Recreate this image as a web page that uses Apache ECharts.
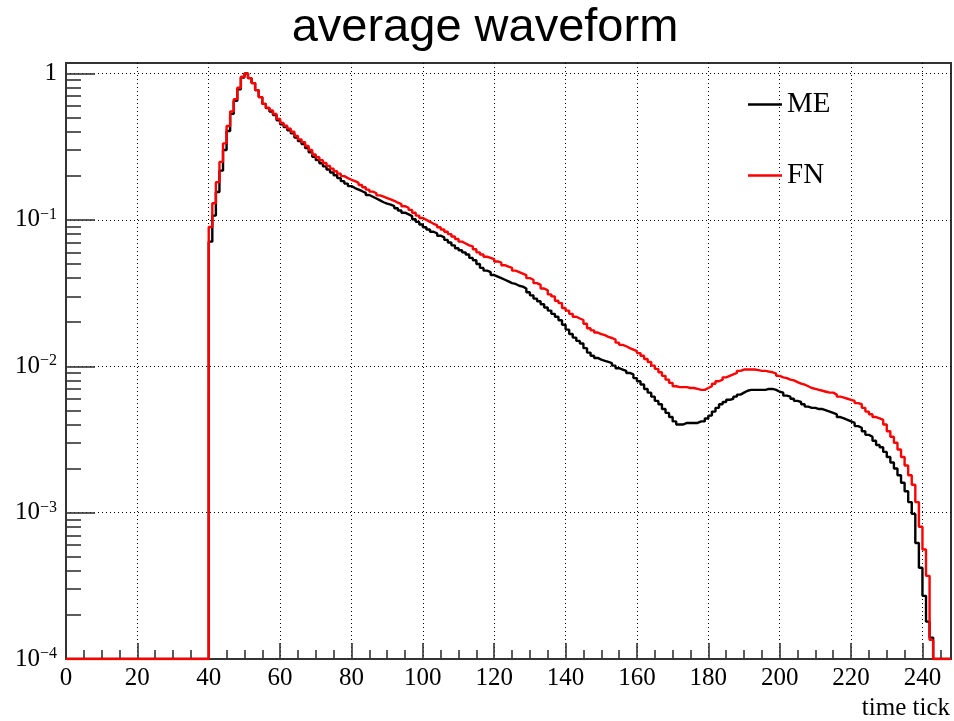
<!DOCTYPE html>
<html>
<head>
<meta charset="utf-8">
<title>average waveform</title>
<script src="https://cdn.jsdelivr.net/npm/echarts@6/dist/echarts.min.js"></script>
<style>
  html, body { margin: 0; padding: 0; background: #fff; }
  #chart { width: 954px; height: 721px; }
</style>
</head>
<body>
<div id="chart"></div>
<script>
// histogram: one bin per time tick, bins before firstBin and after the lists are empty
const firstBin = 40
const lastEdge = 248

// ME (black), bins 40 .. 242
const meValues = [
  0.071, 0.107, 0.155, 0.217, 0.30, 0.405, 0.53, 0.65, 0.78, 0.94,            // 40
  1.0, 0.93, 0.86, 0.77, 0.69, 0.62, 0.58, 0.55, 0.52, 0.48,                  // 50
  0.45, 0.43, 0.41, 0.39, 0.365, 0.345, 0.33, 0.31, 0.29, 0.27,               // 60
  0.256, 0.244, 0.232, 0.221, 0.211, 0.202, 0.193, 0.184, 0.177, 0.170,       // 70
  0.165, 0.161, 0.157, 0.153, 0.148, 0.144, 0.140, 0.136, 0.132, 0.129,       // 80
  0.127, 0.124, 0.120, 0.116, 0.112, 0.109, 0.106, 0.101, 0.097, 0.093,       // 90
  0.089, 0.086, 0.083, 0.081, 0.078, 0.076, 0.073, 0.070, 0.067, 0.064,       // 100
  0.062, 0.060, 0.058, 0.055, 0.053, 0.050, 0.047, 0.045, 0.044, 0.042,       // 110
  0.041, 0.040, 0.039, 0.038, 0.037, 0.0365, 0.0355, 0.035, 0.034, 0.032,     // 120
  0.0305, 0.029, 0.0278, 0.0265, 0.0252, 0.024, 0.0228, 0.0218, 0.0206, 0.0192, // 130
  0.0178, 0.0166, 0.0157, 0.0149, 0.0143, 0.0133, 0.0124, 0.0118, 0.0114, 0.0111, // 140
  0.0109, 0.0107, 0.0105, 0.0101, 0.0097, 0.0095, 0.0093, 0.0090, 0.0088, 0.0083, // 150
  0.0079, 0.0075, 0.0070, 0.0066, 0.0062, 0.0058, 0.0055, 0.0051, 0.0048, 0.0045, // 160
  0.0042, 0.0040, 0.0040, 0.0041, 0.0041, 0.0041, 0.0041, 0.0042, 0.0042, 0.0044, // 170
  0.0046, 0.0049, 0.0052, 0.0055, 0.0057, 0.0059, 0.0060, 0.0062, 0.0064, 0.0066, // 180
  0.0068, 0.0069, 0.0069, 0.0069, 0.0069, 0.0069, 0.0070, 0.0070, 0.0069, 0.0067, // 190
  0.0066, 0.0063, 0.0062, 0.0060, 0.0058, 0.0057, 0.0055, 0.0053, 0.0052, 0.0052, // 200
  0.0051, 0.0051, 0.0050, 0.0049, 0.0048, 0.0047, 0.0045, 0.0044, 0.0043, 0.0042, // 210
  0.0041, 0.0039, 0.0038, 0.0036, 0.0034, 0.0033, 0.0031, 0.0029, 0.0028, 0.0026, // 220
  0.0024, 0.0022, 0.0020, 0.0018, 0.0016, 0.0014, 0.00118, 0.00098, 0.00062, 0.00042, // 230
  0.00027, 0.00018, 0.00014                                                    // 240
]

// FN (red), bins 40 .. 242
const fnValues = [
  0.0895, 0.130, 0.181, 0.249, 0.333, 0.438, 0.550, 0.668, 0.80, 0.95,        // 40
  1.0, 0.93, 0.86, 0.77, 0.69, 0.62, 0.585, 0.56, 0.53, 0.49,                 // 50
  0.46, 0.44, 0.42, 0.40, 0.375, 0.355, 0.34, 0.32, 0.30, 0.28,               // 60
  0.268, 0.256, 0.245, 0.234, 0.224, 0.215, 0.207, 0.199, 0.193, 0.188,       // 70
  0.184, 0.179, 0.173, 0.167, 0.161, 0.156, 0.152, 0.147, 0.144, 0.141,       // 80
  0.138, 0.135, 0.131, 0.128, 0.124, 0.121, 0.117, 0.112, 0.107, 0.103,       // 90
  0.100, 0.097, 0.094, 0.092, 0.089, 0.086, 0.083, 0.080, 0.077, 0.074,       // 100
  0.071, 0.069, 0.067, 0.066, 0.063, 0.060, 0.058, 0.056, 0.055, 0.054,       // 110
  0.052, 0.051, 0.049, 0.048, 0.047, 0.045, 0.044, 0.043, 0.042, 0.040,       // 120
  0.039, 0.037, 0.036, 0.034, 0.033, 0.031, 0.030, 0.028, 0.027, 0.025,       // 130
  0.024, 0.0228, 0.0218, 0.0212, 0.0207, 0.0195, 0.0182, 0.0176, 0.0170, 0.0166, // 140
  0.0163, 0.0159, 0.0156, 0.0152, 0.0145, 0.0140, 0.0137, 0.0133, 0.0130, 0.0127, // 150
  0.0123, 0.0118, 0.0112, 0.0107, 0.0101, 0.0096, 0.0091, 0.0086, 0.0081, 0.0077, // 160
  0.0073, 0.0072, 0.0072, 0.0072, 0.0071, 0.0071, 0.0070, 0.0069, 0.0069, 0.0071, // 170
  0.0073, 0.0076, 0.0079, 0.0081, 0.0084, 0.0086, 0.0088, 0.0090, 0.0093, 0.0095, // 180
  0.0095, 0.0095, 0.0095, 0.0094, 0.0093, 0.0093, 0.0092, 0.0091, 0.0089, 0.0086, // 190
  0.0084, 0.0083, 0.0081, 0.0080, 0.0078, 0.0076, 0.0075, 0.0073, 0.0071, 0.0070, // 200
  0.0069, 0.0068, 0.0067, 0.0066, 0.0066, 0.0064, 0.0062, 0.0061, 0.0060, 0.0059, // 210
  0.0058, 0.0056, 0.0055, 0.0052, 0.0049, 0.0047, 0.0045, 0.0044, 0.0043, 0.0040, // 220
  0.0036, 0.0033, 0.0030, 0.0027, 0.0024, 0.0021, 0.0018, 0.00155, 0.00118, 0.00080, // 230
  0.00056, 0.00037, 0.000135                                                   // 240
]

const seriesNames = ['ME', 'FN']
const seriesColors = ['#000000', '#ff0000']

const yMin = 1e-4
const yMax = 1.18
const yMajor = [1e-4, 1e-3, 1e-2, 1e-1, 1]
const xMajor = [0, 20, 40, 60, 80, 100, 120, 140, 160, 180, 200, 220, 240]

// 2..9 x each decade
const yMinor = []
yMajor.slice(0, -1).forEach(d => {
  for (let k = 2; k <= 9; k++) yMinor.push(+(d * k).toPrecision(3))
})
// every 5 ticks between the labelled ones
const xMinor = []
for (let t = 5; t < lastEdge; t += 5) if (t % 20 !== 0) xMinor.push(t)

// empty bins sit on the bottom of the log frame
const toSteps = (values) => {
  const pts = []
  for (let b = 0; b < lastEdge; b++) {
    const i = b - firstBin
    const v = i >= 0 && i < values.length ? values[i] : 0
    pts.push([b, v > 0 ? v : yMin])
  }
  pts.push([lastEdge, pts[pts.length - 1][1]])
  return pts
}

const frameColor = '#333'
const serif = '"Liberation Serif", "DejaVu Serif", serif'

const yLabel = (value) => {
  const e = Math.round(Math.log10(value))
  if (e === 0) return '1'
  return '10{sup|' + (e < 0 ? '\u2212' : '') + Math.abs(e) + '}'
}

const chart = echarts.init(document.getElementById('chart'))

chart.setOption({
  animation: false,
  backgroundColor: '#fff',
  title: {
    text: 'average waveform',
    left: 485,
    top: 0,
    padding: [5, 0, 0, 0],
    textAlign: 'center',
    textStyle: { fontFamily: '"Liberation Sans", Arial, sans-serif', fontSize: 47, fontWeight: 'normal', color: '#000' }
  },
  legend: {
    data: seriesNames,
    orient: 'vertical',
    left: 748,
    top: 90,
    padding: 0,
    itemGap: 42,
    itemWidth: 34,
    itemHeight: 2.5,
    icon: 'rect',
    textStyle: { fontFamily: serif, fontSize: 29, color: '#000' }
  },
  grid: {
    show: true,
    left: 66,
    right: 3,
    top: 63,
    bottom: 58,
    borderColor: frameColor,
    borderWidth: 2,
    backgroundColor: 'transparent',
    containLabel: false
  },
  xAxis: [{
    type: 'value',
    min: 0,
    max: lastEdge,
    name: 'time tick',
    nameLocation: 'end',
    nameGap: -1,
    nameMoveOverlap: false,
    nameTextStyle: { fontFamily: serif, fontSize: 25, color: '#000', align: 'right', verticalAlign: 'top', padding: [37, 0, 0, 0] },
    axisLine: { show: true, lineStyle: { color: frameColor, width: 2 } },
    axisTick: { show: true, inside: true, length: 16, customValues: xMajor, lineStyle: { color: frameColor, width: 1.6 } },
    axisLabel: { customValues: xMajor, margin: 7, fontFamily: serif, fontSize: 25, color: '#000' },
    splitLine: { show: true, lineStyle: { color: '#000', width: 1, type: [1, 3] } }
  }, {
    type: 'value',
    min: 0,
    max: lastEdge,
    position: 'bottom',
    axisLine: { show: false },
    axisTick: { show: true, inside: true, length: 9, customValues: xMinor, lineStyle: { color: frameColor, width: 1.6 } },
    axisLabel: { show: false },
    splitLine: { show: false }
  }],
  yAxis: [{
    type: 'log',
    logBase: 10,
    min: yMin,
    max: yMax,
    axisLine: { show: true, lineStyle: { color: frameColor, width: 2 } },
    axisTick: { show: true, inside: true, length: 29, customValues: yMajor, lineStyle: { color: frameColor, width: 1.6 } },
    axisLabel: {
      customValues: yMajor,
      margin: 9,
      formatter: yLabel,
      fontFamily: serif,
      fontSize: 25,
      color: '#000',
      lineHeight: 26,
      rich: {
        sup: { fontFamily: serif, fontSize: 16, color: '#000', verticalAlign: 'top', lineHeight: 26 }
      }
    },
    splitLine: { show: true, lineStyle: { color: '#000', width: 1, type: [1, 3] } }
  }, {
    type: 'log',
    logBase: 10,
    min: yMin,
    max: yMax,
    position: 'left',
    axisLine: { show: false },
    axisTick: { show: true, inside: true, length: 15, customValues: yMinor, lineStyle: { color: frameColor, width: 1.6 } },
    axisLabel: { show: false },
    splitLine: { show: false }
  }],
  series: [meValues, fnValues].map((vals, k) => ({
    name: seriesNames[k],
    type: 'line',
    xAxisIndex: 0,
    yAxisIndex: 0,
    step: 'end',
    showSymbol: false,
    symbol: 'none',
    color: seriesColors[k],
    lineStyle: { color: seriesColors[k], width: 2.4 },
    data: toSteps(vals),
    z: 3 + k
  }))
})

window.addEventListener('resize', () => chart.resize())
</script>
</body>
</html>
